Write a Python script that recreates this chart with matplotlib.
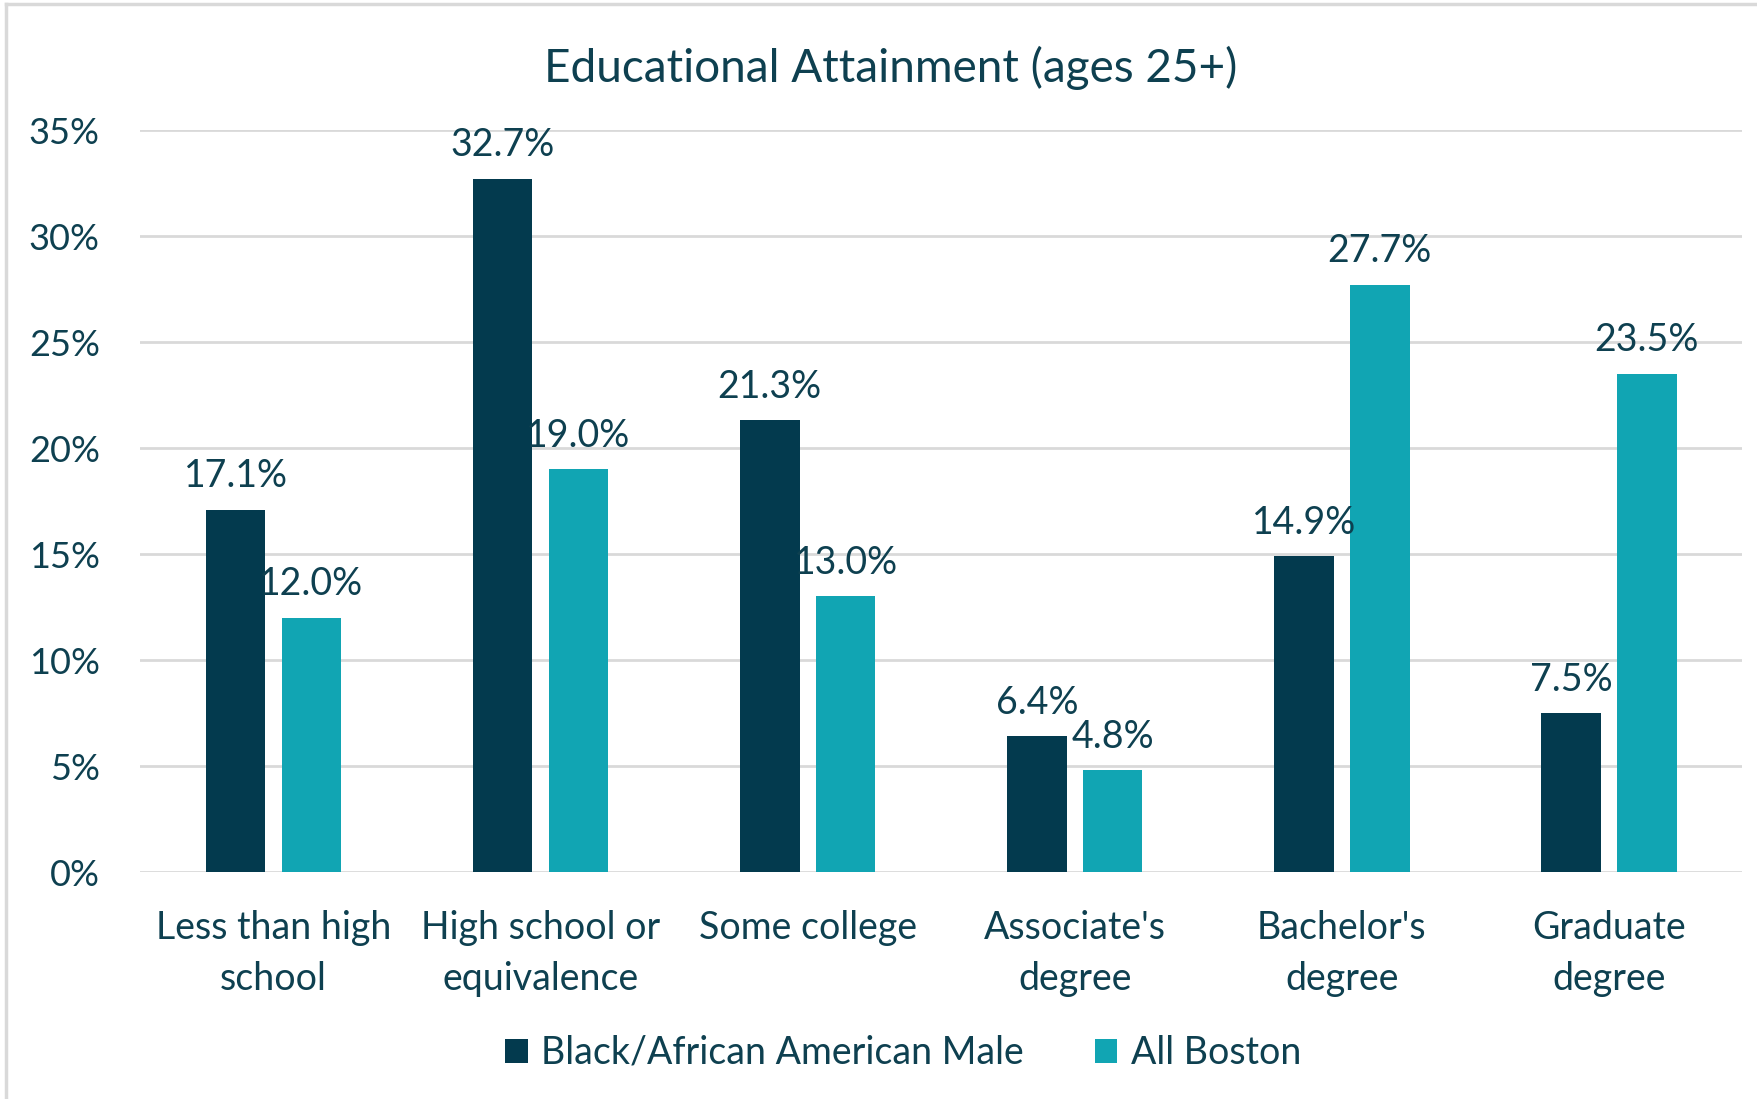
import matplotlib
matplotlib.use('Agg')
import matplotlib.pyplot as plt
import numpy as np

categories = ["Less than high\nschool", "High school or\nequivalence", "Some college",
              "Associate's\ndegree", "Bachelor's\ndegree", "Graduate\ndegree"]
black_male = [17.1, 32.7, 21.3, 6.4, 14.9, 7.5]
all_boston = [12.0, 19.0, 13.0, 4.8, 27.7, 23.5]
series_names = ["Black/African American Male", "All Boston"]
yticks = [0, 5, 10, 15, 20, 25, 30, 35]

DARK = '#033a4e'
TEAL = '#11a5b3'
TEXT = '#0e4050'
GRID = '#d9d9d9'

plt.rcParams['font.family'] = ['Lato', 'DejaVu Sans']

fig = plt.figure(figsize=(17.57, 10.99), dpi=100)
ax = fig.add_axes([0.0797, 0.2065, 0.912, 0.6752])

x = np.arange(len(categories))
w = 0.223
off = 0.142
b1 = ax.bar(x - off, black_male, w, color=DARK, label=series_names[0], zorder=3)
b2 = ax.bar(x + off, all_boston, w, color=TEAL, label=series_names[1], zorder=3)

for bars, vals in [(b1, black_male), (b2, all_boston)]:
    for rect, v in zip(bars, vals):
        ax.annotate(f"{v:.1f}%", (rect.get_x() + rect.get_width() / 2, v),
                    xytext=(0, 24), textcoords='offset points',
                    ha='center', va='center', fontsize=27, color=TEXT, zorder=4)

ax.set_xlim(-0.5, len(categories) - 0.5)
ax.set_ylim(0, 35)
ax.set_yticks(yticks)
ax.set_yticklabels([f"{t}%" for t in yticks])
ax.set_xticks(x)
ax.set_xticklabels(categories, linespacing=1.52)
ax.tick_params(axis='y', length=0, pad=29, labelsize=26, labelcolor=TEXT)
ax.tick_params(axis='x', length=0, pad=27, labelsize=27, labelcolor=TEXT)
ax.grid(axis='y', color=GRID, linewidth=2, zorder=0)
for s in ax.spines.values():
    s.set_visible(False)

fig.text(0.507, 0.938, "Educational Attainment (ages 25+)", ha='center', va='center',
         fontsize=33, color=TEXT)

fig.legend(loc='center', bbox_to_anchor=(0.514, 0.042), ncol=2, frameon=False,
           fontsize=27, labelcolor=TEXT, handlelength=0.6, handleheight=0.6,
           handletextpad=0.35, columnspacing=1.9)

# outer chart border (top and left visible in the crop)
fig.add_artist(plt.Line2D([6 / 1757, 6 / 1757], [0, 1 - 3.5 / 1099], color=GRID,
                          linewidth=2.5, transform=fig.transFigure))
fig.add_artist(plt.Line2D([6 / 1757, 1], [1 - 3.5 / 1099, 1 - 3.5 / 1099], color=GRID,
                          linewidth=2.5, transform=fig.transFigure))

fig.savefig('out.png', dpi=100)
